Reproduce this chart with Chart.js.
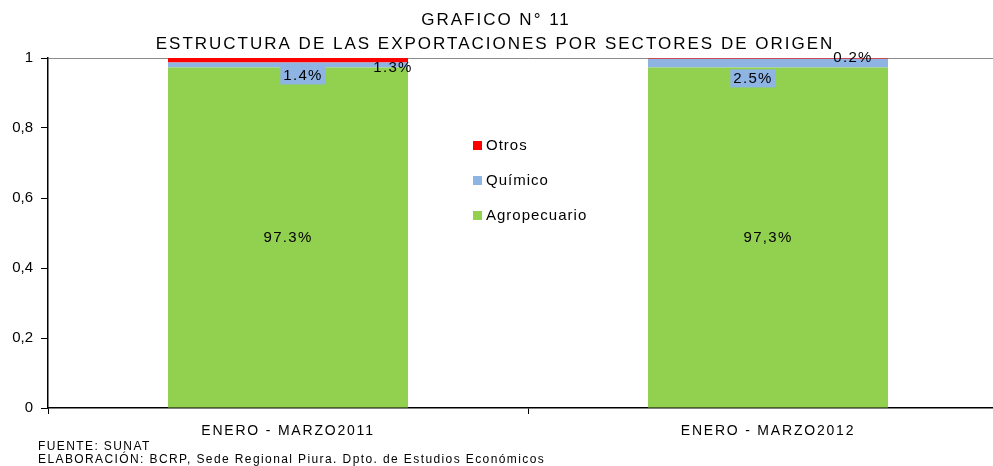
<!DOCTYPE html>
<html>
<head>
<meta charset="utf-8">
<script src="https://cdn.jsdelivr.net/npm/chart.js@4"></script>
<style>
  html, body { margin: 0; padding: 0; background: #fff; overflow: hidden; }
  #wrap { width: 1010px; height: 466px; }
</style>
</head>
<body>
<div id="wrap"><canvas id="grafico"></canvas></div>
<script>
  // --- Datos ---
  const periodos = ["ENERO - MARZO2011", "ENERO - MARZO2012"];
  const agropecuario = [0.973, 0.973];
  const quimico = [0.014, 0.025];
  const otros = [0.013, 0.002];
  const etiquetasAgro = ["97.3%", "97,3%"];
  const etiquetasQuim = ["1.4%", "2.5%"];
  const etiquetasOtros = ["1.3%", "0.2%"];
  const ticksY = [0, 0.2, 0.4, 0.6, 0.8, 1];
  const titulo = ["GRAFICO N° 11", "ESTRUCTURA DE LAS EXPORTACIONES POR SECTORES DE ORIGEN"];
  const notas = ["FUENTE: SUNAT", "ELABORACIÓN: BCRP, Sede Regional Piura. Dpto. de Estudios Económicos"];

  const colores = { agro: "#92D050", quim: "#8EB4E3", otros: "#FF0000" };
  const FUENTE = "'Liberation Sans', Arial, sans-serif";

  // --- Plugin de textos (titulo, etiquetas, leyenda, notas) ---
  const textos = {
    id: "textos",
    afterDraw(chart) {
      const ctx = chart.ctx;
      const xs = chart.scales.x;
      ctx.save();
      ctx.fillStyle = "#000";
      ctx.textBaseline = "middle";

      // Titulo
      ctx.font = "17px " + FUENTE;
      ctx.letterSpacing = "2px";
      ctx.textAlign = "center";
      ctx.fillText(titulo[0], 496, 20);
      ctx.fillText(titulo[1], 495, 44);

      // Etiquetas del eje X
      ctx.font = "14px " + FUENTE;
      ctx.letterSpacing = "1.8px";
      periodos.forEach((p, i) => ctx.fillText(p, xs.getPixelForTick(i), 431));

      // Etiquetas de datos
      const mAgro = chart.getDatasetMeta(0).data;
      const mQuim = chart.getDatasetMeta(1).data;
      const mOtros = chart.getDatasetMeta(2).data;
      ctx.font = "15px " + FUENTE;
      ctx.letterSpacing = "1.3px";
      mAgro.forEach((b, i) => {
        ctx.fillText(etiquetasAgro[i], b.x, (b.y + b.base) / 2);
      });
      const despQ = [15, -15];
      mQuim.forEach((b, i) => {
        const cx = b.x + despQ[i];
        const cy = b.base + 8 + i * 3;
        const w = ctx.measureText(etiquetasQuim[i]).width + 6;
        ctx.fillStyle = colores.quim;
        ctx.fillRect(cx - w / 2, cy - 9, w, 18);
        ctx.fillStyle = "#000";
        ctx.fillText(etiquetasQuim[i], cx, cy);
      });
      const despO = [-15, -35];
      mOtros.forEach((b, i) => {
        ctx.fillText(etiquetasOtros[i], b.x + b.width / 2 + despO[i], b.y + 10 - i * 10);
      });

      // Leyenda
      const leyenda = [["Otros", colores.otros], ["Químico", colores.quim], ["Agropecuario", colores.agro]];
      ctx.font = "15px " + FUENTE;
      ctx.letterSpacing = "1px";
      ctx.textAlign = "left";
      leyenda.forEach((l, i) => {
        const y = 146 + i * 35;
        ctx.fillStyle = l[1];
        ctx.fillRect(473, y - 5, 9, 9);
        ctx.fillStyle = "#000";
        ctx.fillText(l[0], 486, y);
      });

      // Notas
      ctx.font = "12px " + FUENTE;
      ctx.letterSpacing = "1.4px";
      ctx.fillText(notas[0], 38, 447);
      ctx.fillText(notas[1], 38, 460);
      ctx.restore();
    }
  };

  new Chart(document.getElementById("grafico"), {
    type: "bar",
    data: {
      labels: periodos,
      datasets: [
        { label: "Agropecuario", data: agropecuario, backgroundColor: colores.agro },
        { label: "Químico", data: quimico, backgroundColor: colores.quim },
        { label: "Otros", data: otros, backgroundColor: colores.otros }
      ]
    },
    options: {
      responsive: true,
      maintainAspectRatio: false,
      animation: false,
      layout: { padding: { top: 58, right: 2, left: 0, bottom: 0 } },
      plugins: {
        legend: { display: false },
        title: { display: false },
        tooltip: { enabled: false }
      },
      datasets: { bar: { categoryPercentage: 0.5, barPercentage: 1 } },
      scales: {
        x: {
          stacked: true,
          afterFit: (s) => { s.height = 58; },
          ticks: { display: false },
          border: { color: "#000", width: 1.5 },
          grid: { drawOnChartArea: false, tickLength: 6, color: "#000", offset: true }
        },
        y: {
          stacked: true,
          min: 0,
          max: 1,
          afterFit: (s) => { s.width = 48; },
          afterBuildTicks: (s) => { s.ticks = ticksY.map(v => ({ value: v })); },
          ticks: {
            color: "#000",
            font: { size: 15, family: FUENTE },
            padding: 8,
            callback: (v) => String(v).replace(".", ",")
          },
          border: { color: "#000", width: 1.5 },
          grid: {
            tickLength: 7,
            tickColor: "#000",
            color: (c) => (c.tick && c.tick.value === 1 ? "#8c8c8c" : "rgba(0,0,0,0)")
          }
        }
      }
    },
    plugins: [textos]
  });
</script>
</body>
</html>
